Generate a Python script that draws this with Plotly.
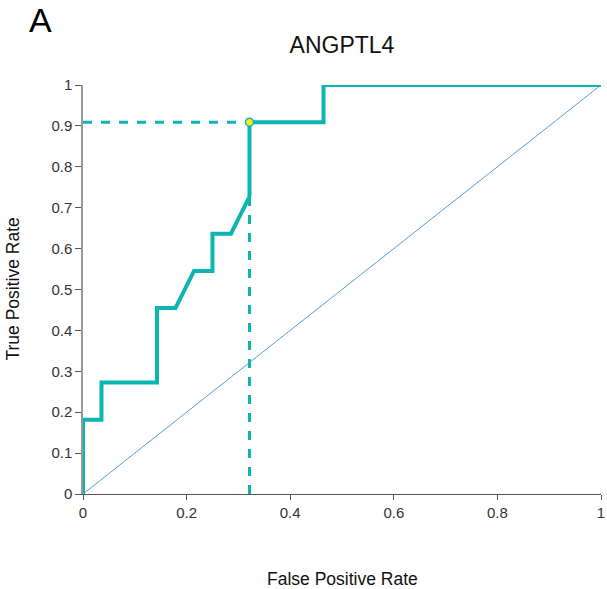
import plotly.graph_objects as go

# ROC curve data (ANGPTL4)
fpr = [0, 0, 0.0357, 0.0357, 0.1429, 0.1429, 0.1786, 0.2143, 0.25, 0.25, 0.2857, 0.3214, 0.3214, 0.4643, 0.4643, 1.0]
tpr = [0, 0.1818, 0.1818, 0.2727, 0.2727, 0.4545, 0.4545, 0.5455, 0.5455, 0.6364, 0.6364, 0.7273, 0.9091, 0.9091, 1.0, 1.0]
cut_fpr = 0.3214
cut_tpr = 0.9091
diag = [0, 1]
xticks = [0, 0.2, 0.4, 0.6, 0.8, 1]
xticklabels = ["0", "0.2", "0.4", "0.6", "0.8", "1"]
yticks = [0, 0.1, 0.2, 0.3, 0.4, 0.5, 0.6, 0.7, 0.8, 0.9, 1]
yticklabels = ["0", "0.1", "0.2", "0.3", "0.4", "0.5", "0.6", "0.7", "0.8", "0.9", "1"]

teal = "#0bb5b1"
font = "Liberation Sans, Arial, sans-serif"

fig = go.Figure()
fig.add_trace(go.Scatter(x=diag, y=diag, mode="lines",
                         line=dict(color="#2a86c8", width=0.8), showlegend=False))
fig.add_trace(go.Scatter(x=[0, cut_fpr], y=[cut_tpr, cut_tpr], mode="lines",
                         line=dict(color=teal, width=3, dash="dash"), showlegend=False))
fig.add_trace(go.Scatter(x=[cut_fpr, cut_fpr], y=[0, cut_tpr], mode="lines",
                         line=dict(color=teal, width=3, dash="dash"), showlegend=False))
fig.add_trace(go.Scatter(x=fpr, y=tpr, mode="lines",
                         line=dict(color=teal, width=4), showlegend=False))
fig.add_trace(go.Scatter(x=[cut_fpr], y=[cut_tpr], mode="markers",
                         marker=dict(color="#f2f200", size=8, line=dict(color="#1fa8e0", width=1.5)),
                         showlegend=False, cliponaxis=False))

fig.update_layout(
    width=607, height=589,
    margin=dict(l=83, r=6, t=85, b=95, autoexpand=False),
    plot_bgcolor="white", paper_bgcolor="white",
    font=dict(family=font, size=15, color="#333333"),
    title=dict(text="ANGPTL4", x=0.5634, xanchor="center", y=1 - 45 / 589, yanchor="middle",
               font=dict(size=23, color="#111111")),
    annotations=[
        dict(text="A", x=-0.083, y=494 / 409, xref="paper", yref="paper", showarrow=False,
             xanchor="center", yanchor="top", borderpad=0,
             font=dict(size=34, color="#000000")),
        dict(text="False Positive Rate", x=0.5, y=-0.2078, xref="paper", yref="paper", showarrow=False,
             xanchor="center", yanchor="middle", font=dict(size=17.5, color="#111111")),
        dict(text="True Positive Rate", x=-0.137, y=0.5, xref="paper", yref="paper", showarrow=False,
             xanchor="center", yanchor="middle", textangle=-90, font=dict(size=17.5, color="#111111")),
    ],
    xaxis=dict(range=[0, 1], tickvals=xticks, ticktext=xticklabels, automargin=False,
               showgrid=False, zeroline=False, showline=True, linecolor="#555555", linewidth=1,
               ticks="outside", ticklen=5, tickcolor="#555555"),
    yaxis=dict(range=[0, 1], tickvals=yticks, ticktext=yticklabels, automargin=False,
               showgrid=False, zeroline=False, showline=True, linecolor="#999999", linewidth=1.5,
               ticks="outside", ticklen=6, tickcolor="#555555"),
)
fig.write_html("out.html", config={"displayModeBar": False},
               post_script="document.body.style.margin='0px';")
